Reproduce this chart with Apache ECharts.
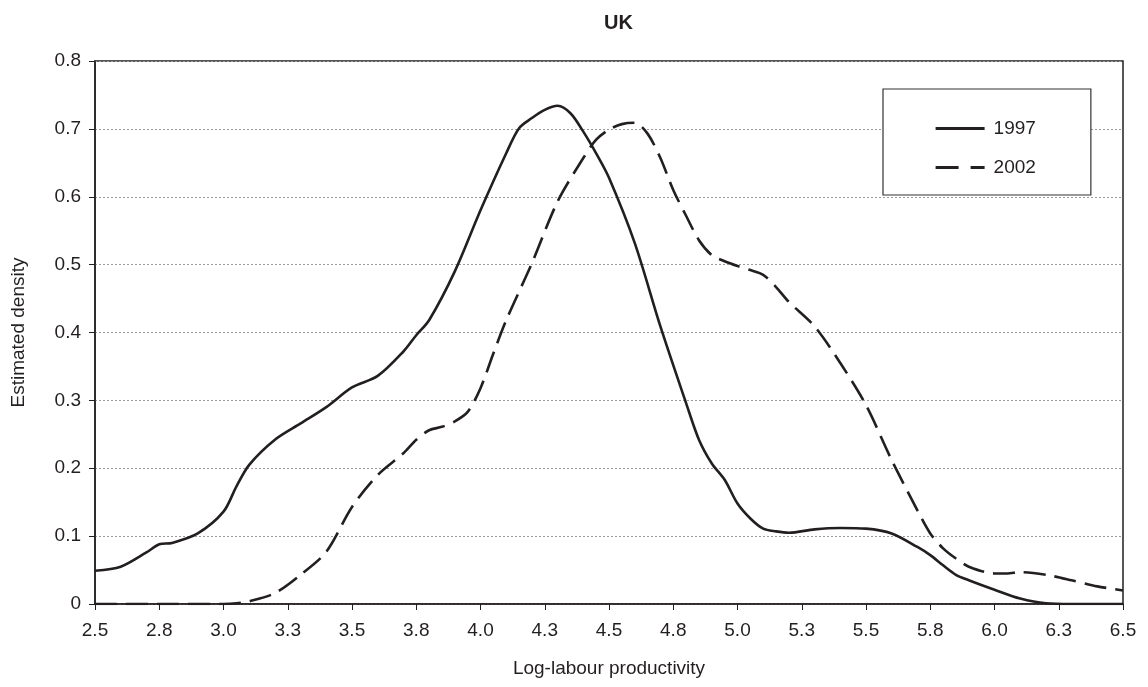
<!DOCTYPE html>
<html>
<head>
<meta charset="utf-8">
<script src="https://cdn.jsdelivr.net/npm/echarts@6/dist/echarts.min.js"></script>
<style>
html,body{margin:0;padding:0;background:#fff;}
#chart{width:1148px;height:687px;}
</style>
</head>
<body>
<div id="chart"></div>
<script>
var title = "UK";
var xAxisName = "Log-labour productivity";
var yAxisName = "Estimated density";
var seriesNames = ["1997", "2002"];

var x1997 = [2.5,2.6,2.7,2.75,2.8,2.9,3.0,3.05,3.1,3.2,3.3,3.4,3.5,3.6,3.7,3.75,3.8,3.9,4.0,4.1,4.15,4.2,4.25,4.3,4.35,4.4,4.45,4.5,4.6,4.7,4.8,4.85,4.9,4.95,5.0,5.05,5.1,5.15,5.2,5.3,5.4,5.5,5.6,5.7,5.75,5.8,5.85,5.9,6.0,6.1,6.2,6.3,6.4,6.5];
var y1997 = [0.049,0.055,0.076,0.088,0.090,0.104,0.136,0.173,0.205,0.242,0.266,0.290,0.319,0.336,0.372,0.396,0.418,0.490,0.580,0.664,0.701,0.716,0.728,0.734,0.723,0.696,0.664,0.628,0.532,0.409,0.296,0.242,0.207,0.183,0.148,0.126,0.111,0.107,0.105,0.110,0.112,0.111,0.104,0.084,0.072,0.057,0.043,0.035,0.021,0.008,0.001,0,0,0];

var x2002 = [2.5,2.8,3.0,3.05,3.1,3.2,3.3,3.4,3.5,3.6,3.7,3.75,3.8,3.85,3.9,3.95,4.0,4.05,4.1,4.2,4.3,4.4,4.45,4.5,4.55,4.6,4.65,4.7,4.75,4.8,4.85,4.9,4.95,5.0,5.05,5.1,5.15,5.2,5.3,5.4,5.5,5.6,5.7,5.75,5.8,5.85,5.9,6.0,6.05,6.1,6.2,6.3,6.4,6.5];
var y2002 = [0,0,0,0.001,0.004,0.016,0.043,0.077,0.143,0.190,0.222,0.242,0.256,0.261,0.269,0.283,0.318,0.369,0.418,0.502,0.593,0.657,0.684,0.699,0.707,0.709,0.693,0.657,0.610,0.572,0.536,0.514,0.505,0.498,0.492,0.485,0.467,0.445,0.409,0.355,0.293,0.212,0.138,0.104,0.082,0.067,0.055,0.045,0.045,0.047,0.043,0.035,0.026,0.020];

function pairs(xs, ys) { return xs.map(function (x, i) { return [x, ys[i]]; }); }

var FONT = "Liberation Sans";
var INK = "#231f20";
var solidStyle = {color: INK, width: 2.6, type: 'solid'};
var dashStyle = {color: INK, width: 2.6, type: [22, 9]};

var chart = echarts.init(document.getElementById('chart'), null, {renderer: 'canvas'});
chart.setOption({
  animation: false,
  backgroundColor: '#fff',
  textStyle: {fontFamily: FONT, color: INK},
  title: {
    text: title, left: 599, top: 8,
    textStyle: {fontFamily: FONT, fontWeight: 'bold', fontSize: 20, color: INK}
  },
  grid: {left: 95, right: 25, top: 61, bottom: 83, show: true, borderColor: INK, borderWidth: 1.5, backgroundColor: 'transparent'},
  legend: {
    orient: 'vertical', left: 883, top: 89,
    padding: [30, 55, 18, 51],
    itemGap: 20, itemWidth: 49, itemHeight: 14,
    backgroundColor: '#fff', borderColor: '#333', borderWidth: 1.2,
    itemStyle: {opacity: 0},
    textStyle: {fontFamily: FONT, fontSize: 19, color: INK, padding: [0, 0, 0, 4]},
    data: [
      {name: seriesNames[0], lineStyle: {color: INK, width: 3.2, type: 'solid'}, itemStyle: {opacity: 0}},
      {name: seriesNames[1], lineStyle: {color: INK, width: 3.2, type: [23, 12]}, itemStyle: {opacity: 0}}
    ]
  },
  xAxis: {
    type: 'value', min: 2.5, max: 6.5, interval: 0.25,
    name: xAxisName, nameLocation: 'middle', nameGap: 55,
    nameTextStyle: {fontFamily: FONT, fontSize: 19, color: INK},
    axisLine: {show: true, lineStyle: {color: INK, width: 1.5}},
    axisTick: {show: true, inside: false, length: 6, lineStyle: {color: INK, width: 1}},
    axisLabel: {margin: 17, fontFamily: FONT, fontSize: 19, color: INK,
      formatter: function (v) { return v.toFixed(1); }},
    splitLine: {show: false}
  },
  yAxis: {
    type: 'value', min: 0, max: 0.8, interval: 0.1,
    name: yAxisName, nameLocation: 'middle', nameGap: 67,
    nameTextStyle: {fontFamily: FONT, fontSize: 19, color: INK},
    axisLine: {show: true, lineStyle: {color: INK, width: 1.5}},
    axisTick: {show: true, inside: false, length: 6, lineStyle: {color: INK, width: 1}},
    axisLabel: {margin: 14, fontFamily: FONT, fontSize: 19, color: INK,
      formatter: function (v) { return v === 0 ? '0' : v.toFixed(1); }},
    splitLine: {show: true, lineStyle: {color: '#9a9a9a', type: [2, 2], width: 1}}
  },
  series: [
    {
      name: seriesNames[0], type: 'line', data: pairs(x1997, y1997),
      showSymbol: false, symbol: 'none', smooth: 0.3,
      lineStyle: solidStyle,
      itemStyle: {color: INK}
    },
    {
      name: seriesNames[1], type: 'line', data: pairs(x2002, y2002),
      showSymbol: false, symbol: 'none', smooth: 0.3,
      lineStyle: dashStyle,
      itemStyle: {color: INK}
    }
  ]
});
</script>
</body>
</html>
